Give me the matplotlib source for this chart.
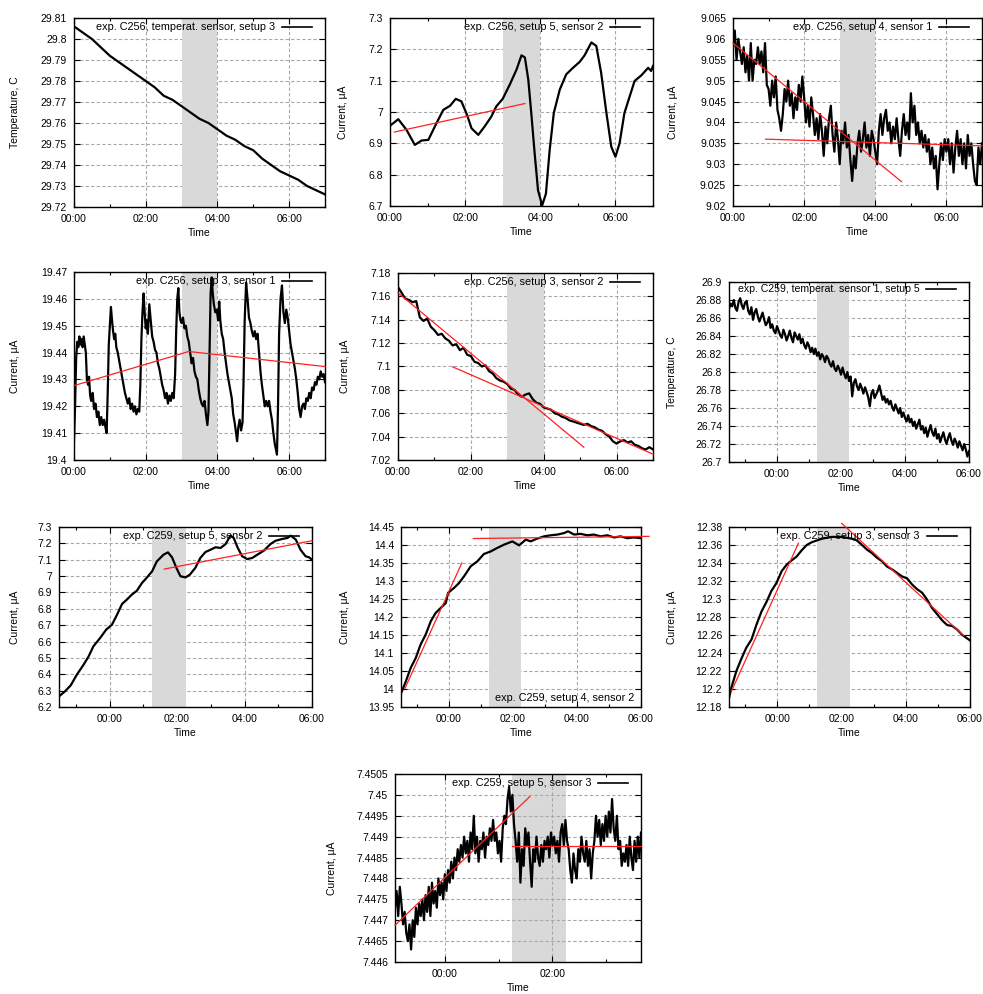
import numpy as np
import matplotlib
matplotlib.use("Agg")
import matplotlib.pyplot as plt
from matplotlib.ticker import MultipleLocator, FuncFormatter

plt.rcParams['font.family'] = ['Liberation Sans', 'DejaVu Sans']
plt.rcParams['font.size'] = 7.5

W, H = 983, 994

# ---- data (time in hours, values in C or uA) ----
p1_vals = [29.806, 29.803, 29.800, 29.796, 29.792, 29.789, 29.786, 29.783, 29.780,
           29.777, 29.773, 29.771, 29.768, 29.765, 29.762, 29.760, 29.757, 29.754,
           29.752, 29.749, 29.747, 29.743, 29.740, 29.737, 29.735, 29.733, 29.730,
           29.728, 29.726]

p2_t = [0.0, 0.22, 0.44, 0.66, 0.84, 1.02, 1.24, 1.42, 1.6, 1.75, 1.9, 2.05, 2.17,
        2.35, 2.52, 2.7, 2.83, 3.0, 3.19, 3.37, 3.5, 3.59, 3.68, 3.76, 3.85, 3.94,
        4.05, 4.15, 4.25, 4.36, 4.52, 4.69, 4.87, 5.05, 5.18, 5.36, 5.49, 5.62,
        5.76, 5.89, 6.0, 6.11, 6.24, 6.38, 6.51, 6.69, 6.87, 6.95, 7.0]
p2_v = [6.956, 6.977, 6.943, 6.895, 6.909, 6.911, 6.965, 7.007, 7.02, 7.042, 7.034,
        6.991, 6.948, 6.927, 6.954, 6.986, 7.018, 7.042, 7.088, 7.136, 7.181, 7.174,
        7.104, 6.997, 6.868, 6.75, 6.702, 6.739, 6.879, 6.997, 7.072, 7.12, 7.141,
        7.16, 7.181, 7.222, 7.211, 7.125, 6.997, 6.889, 6.857, 6.9, 6.997, 7.05,
        7.099, 7.117, 7.141, 7.131, 7.147]

p3_vals = [9.058, 9.062, 9.055, 9.060, 9.057, 9.054, 9.058, 9.052, 9.056, 9.050,
           9.059, 9.050, 9.055, 9.054, 9.058, 9.054, 9.057, 9.052, 9.059, 9.049,
           9.048, 9.044, 9.050, 9.046, 9.051, 9.043, 9.041, 9.038, 9.042, 9.048,
           9.045, 9.050, 9.044, 9.047, 9.041, 9.046, 9.043, 9.049, 9.045, 9.051,
           9.046, 9.040, 9.044, 9.039, 9.046, 9.042, 9.037, 9.041, 9.036, 9.042,
           9.038, 9.032, 9.039, 9.035, 9.041, 9.044, 9.037, 9.033, 9.040, 9.036,
           9.030, 9.038, 9.035, 9.040, 9.034, 9.037, 9.031, 9.026, 9.032, 9.029,
           9.035, 9.038, 9.033, 9.036, 9.040, 9.034, 9.037, 9.032, 9.038, 9.036,
           9.033, 9.030, 9.038, 9.042, 9.037, 9.041, 9.043, 9.038, 9.040, 9.035,
           9.039, 9.036, 9.041, 9.036, 9.032, 9.038, 9.042, 9.037, 9.040, 9.036,
           9.047, 9.040, 9.044, 9.037, 9.040, 9.035, 9.038, 9.034, 9.037, 9.033,
           9.036, 9.030, 9.034, 9.029, 9.032, 9.024, 9.030, 9.035, 9.031, 9.036,
           9.033, 9.036, 9.030, 9.035, 9.028, 9.034, 9.038, 9.032, 9.036, 9.030,
           9.035, 9.029, 9.037, 9.032, 9.035, 9.030, 9.026, 9.025, 9.034, 9.030,
           9.035]

p4_t = [0.00, 0.03, 0.06, 0.09, 0.12, 0.15, 0.18, 0.21, 0.24, 0.27, 0.30, 0.33,
        0.36, 0.39, 0.42, 0.45, 0.48, 0.52, 0.56, 0.60, 0.64, 0.68, 0.72, 0.76,
        0.80, 0.84, 0.88, 0.91, 0.94, 0.97, 1.00, 1.03, 1.06, 1.09, 1.12, 1.15,
        1.18, 1.22, 1.26, 1.30, 1.34, 1.38, 1.42, 1.46, 1.50, 1.54, 1.58, 1.62,
        1.66, 1.70, 1.74, 1.78, 1.82, 1.85, 1.88, 1.91, 1.94, 1.97, 2.00, 2.03,
        2.06, 2.10, 2.14, 2.18, 2.22, 2.26, 2.30, 2.34, 2.38, 2.42, 2.46, 2.50,
        2.54, 2.58, 2.62, 2.66, 2.70, 2.74, 2.78, 2.82, 2.85, 2.88, 2.91, 2.94,
        2.97, 3.00, 3.04, 3.08, 3.12, 3.16, 3.20, 3.24, 3.28, 3.32, 3.36, 3.40,
        3.44, 3.48, 3.52, 3.56, 3.60, 3.64, 3.68, 3.72, 3.75, 3.78, 3.81, 3.84,
        3.87, 3.90, 3.94, 3.98, 4.02, 4.05, 4.08, 4.12, 4.16, 4.20, 4.24, 4.28,
        4.32, 4.36, 4.40, 4.44, 4.48, 4.52, 4.55, 4.58, 4.62, 4.66, 4.70, 4.73,
        4.76, 4.80, 4.84, 4.88, 4.92, 4.96, 5.00, 5.04, 5.08, 5.12, 5.16, 5.20,
        5.24, 5.28, 5.32, 5.36, 5.40, 5.44, 5.48, 5.52, 5.56, 5.60, 5.63, 5.66,
        5.69, 5.72, 5.76, 5.80, 5.84, 5.88, 5.92, 5.96, 6.00, 6.04, 6.08, 6.12,
        6.16, 6.20, 6.24, 6.28, 6.32, 6.36, 6.40, 6.44, 6.48, 6.52, 6.56, 6.60,
        6.64, 6.68, 6.72, 6.76, 6.80, 6.84, 6.88, 6.92, 6.96, 7.00]
p4_v = [19.407, 19.420, 19.438, 19.444, 19.442, 19.446, 19.443, 19.445, 19.442,
        19.446, 19.443, 19.440, 19.430, 19.428, 19.431, 19.424, 19.422, 19.425,
        19.419, 19.421, 19.416, 19.418, 19.413, 19.416, 19.413, 19.415, 19.412,
        19.410, 19.425, 19.443, 19.450, 19.457, 19.452, 19.448, 19.445, 19.447,
        19.442, 19.440, 19.437, 19.434, 19.431, 19.428, 19.425, 19.423, 19.421,
        19.423, 19.419, 19.421, 19.418, 19.420, 19.417, 19.419, 19.418, 19.428,
        19.445, 19.455, 19.462, 19.455, 19.449, 19.452, 19.447, 19.458, 19.452,
        19.446, 19.444, 19.441, 19.440, 19.436, 19.434, 19.431, 19.428, 19.426,
        19.423, 19.425, 19.421, 19.424, 19.422, 19.425, 19.423, 19.432, 19.448,
        19.460, 19.464, 19.455, 19.452, 19.451, 19.453, 19.449, 19.450, 19.446,
        19.444, 19.440, 19.436, 19.438, 19.433, 19.431, 19.430, 19.426, 19.423,
        19.421, 19.420, 19.422, 19.417, 19.413, 19.418, 19.440, 19.462, 19.468,
        19.462, 19.458, 19.455, 19.456, 19.452, 19.459, 19.452, 19.447, 19.445,
        19.440, 19.436, 19.432, 19.429, 19.426, 19.423, 19.417, 19.414, 19.410,
        19.407, 19.412, 19.415, 19.411, 19.414, 19.430, 19.452, 19.466, 19.460,
        19.453, 19.451, 19.448, 19.446, 19.448, 19.445, 19.447, 19.440, 19.433,
        19.428, 19.424, 19.420, 19.422, 19.420, 19.422, 19.418, 19.415, 19.410,
        19.406, 19.404, 19.402, 19.420, 19.447, 19.460, 19.465, 19.455, 19.451,
        19.456, 19.453, 19.448, 19.443, 19.440, 19.437, 19.434, 19.430, 19.425,
        19.419, 19.416, 19.420, 19.421, 19.419, 19.423, 19.422, 19.425, 19.423,
        19.427, 19.426, 19.429, 19.428, 19.431, 19.430, 19.433, 19.431, 19.432,
        19.429]

p5_vals = [7.168, 7.163, 7.158, 7.157, 7.155, 7.156, 7.142, 7.139, 7.141, 7.134,
           7.131, 7.127, 7.128, 7.124, 7.122, 7.118, 7.119, 7.114, 7.116, 7.110,
           7.109, 7.104, 7.103, 7.100, 7.101, 7.096, 7.094, 7.090, 7.088, 7.087,
           7.085, 7.081, 7.080, 7.076, 7.074, 7.076, 7.077, 7.072, 7.069, 7.068,
           7.065, 7.064, 7.063, 7.060, 7.059, 7.057, 7.056, 7.054, 7.053, 7.052,
           7.051, 7.050, 7.051, 7.049, 7.048, 7.046, 7.045, 7.042, 7.040, 7.036,
           7.034, 7.036, 7.037, 7.035, 7.036, 7.033, 7.032, 7.030, 7.029, 7.031,
           7.029]

p6_vals = [26.870, 26.876, 26.873, 26.880, 26.871, 26.868, 26.878, 26.882, 26.874, 26.870,
           26.877, 26.879, 26.868, 26.864, 26.872, 26.858, 26.866, 26.870, 26.862, 26.856,
           26.861, 26.866, 26.858, 26.852, 26.855, 26.861, 26.849, 26.853, 26.846, 26.843,
           26.851, 26.846, 26.841, 26.838, 26.847, 26.842, 26.835, 26.840, 26.846, 26.838,
           26.833, 26.844, 26.840, 26.836, 26.842, 26.832, 26.837, 26.830, 26.826, 26.833,
           26.829, 26.822, 26.827, 26.820, 26.826, 26.818, 26.822, 26.814, 26.820, 26.817,
           26.811, 26.818, 26.815, 26.809, 26.806, 26.812, 26.804, 26.801, 26.807, 26.803,
           26.797, 26.805, 26.798, 26.793, 26.800, 26.790, 26.795, 26.773, 26.788, 26.792,
           26.784, 26.780, 26.787, 26.782, 26.776, 26.783, 26.778, 26.772, 26.762, 26.776,
           26.780, 26.771, 26.775, 26.779, 26.785, 26.777, 26.769, 26.773, 26.766, 26.770,
           26.764, 26.768, 26.761, 26.757, 26.764, 26.759, 26.754, 26.760, 26.750, 26.755,
           26.749, 26.745, 26.752, 26.744, 26.748, 26.740, 26.745, 26.737, 26.742, 26.747,
           26.736, 26.740, 26.732, 26.738, 26.728, 26.735, 26.741, 26.733, 26.729, 26.737,
           26.726, 26.731, 26.722, 26.728, 26.733, 26.725, 26.720, 26.727, 26.732, 26.724,
           26.719, 26.726, 26.722, 26.716, 26.723, 26.718, 26.713, 26.720, 26.714, 26.706,
           26.712]

p7_t = [-1.5, -1.32, -1.15, -0.97, -0.77, -0.62, -0.48, -0.28, -0.1, 0.07, 0.22,
        0.37, 0.51, 0.66, 0.81, 0.96, 1.11, 1.26, 1.4, 1.6, 1.73, 1.85, 1.98, 2.1,
        2.25, 2.38, 2.54, 2.69, 2.84, 2.99, 3.14, 3.29, 3.44, 3.58, 3.68, 3.8,
        3.93, 4.08, 4.23, 4.38, 4.57, 4.77, 4.92, 5.12, 5.27, 5.37, 5.52, 5.66,
        5.81, 5.91, 6.0]
p7_v = [6.265, 6.296, 6.333, 6.398, 6.459, 6.51, 6.571, 6.622, 6.673, 6.703, 6.764,
        6.83, 6.856, 6.887, 6.911, 6.958, 6.992, 7.029, 7.09, 7.131, 7.145, 7.115,
        7.05, 6.999, 6.992, 7.009, 7.05, 7.111, 7.147, 7.161, 7.176, 7.172, 7.196,
        7.247, 7.233, 7.172, 7.121, 7.104, 7.111, 7.131, 7.155, 7.196, 7.216,
        7.227, 7.233, 7.247, 7.223, 7.161, 7.121, 7.115, 7.1]

p8_t = [-1.48, -1.35, -1.2, -1.04, -0.89, -0.73, -0.57, -0.42, -0.26, -0.1, -0.03,
        0.16, 0.31, 0.47, 0.68, 0.89, 1.09, 1.3, 1.51, 1.72, 1.98, 2.19, 2.4, 2.55,
        2.76, 2.97, 3.18, 3.39, 3.59, 3.72, 3.91, 4.11, 4.32, 4.53, 4.74, 4.95,
        5.16, 5.36, 5.57, 5.78, 6.0]
p8_v = [13.992, 14.021, 14.058, 14.086, 14.123, 14.151, 14.188, 14.211, 14.225,
        14.239, 14.267, 14.281, 14.294, 14.313, 14.341, 14.355, 14.375, 14.382,
        14.392, 14.401, 14.41, 14.399, 14.415, 14.41, 14.418, 14.424, 14.427,
        14.429, 14.433, 14.438, 14.429, 14.431, 14.427, 14.429, 14.424, 14.427,
        14.421, 14.424, 14.419, 14.421, 14.419]

p9_t = [-1.5, -1.43, -1.27, -1.11, -0.96, -0.8, -0.65, -0.49, -0.33, -0.18, -0.02,
        0.14, 0.29, 0.45, 0.6, 0.76, 0.92, 1.07, 1.23, 1.39, 1.54, 1.7, 1.85, 2.01,
        2.17, 2.32, 2.48, 2.64, 2.79, 2.95, 3.1, 3.26, 3.42, 3.57, 3.73, 3.89,
        4.04, 4.2, 4.35, 4.51, 4.67, 4.82, 4.98, 5.14, 5.29, 5.45, 5.6, 5.76,
        5.92, 6.0]
p9_v = [12.19, 12.201, 12.22, 12.234, 12.246, 12.255, 12.271, 12.286, 12.297,
        12.309, 12.318, 12.331, 12.338, 12.343, 12.347, 12.354, 12.36, 12.363,
        12.365, 12.367, 12.368, 12.369, 12.369, 12.369, 12.368, 12.367, 12.365,
        12.36, 12.355, 12.351, 12.346, 12.342, 12.336, 12.333, 12.329, 12.325,
        12.323, 12.316, 12.311, 12.307, 12.299, 12.29, 12.283, 12.276, 12.271,
        12.27, 12.266, 12.26, 12.256, 12.254]

p10_vals = [7.4473, 7.4477, 7.4471, 7.4478, 7.4474, 7.4469, 7.4472, 7.4467, 7.4465,
            7.4469, 7.4463, 7.4470, 7.4466, 7.4473, 7.4469, 7.4474, 7.4471, 7.4475,
            7.4470, 7.4476, 7.4472, 7.4478, 7.4471, 7.4479, 7.4474, 7.4477, 7.4473,
            7.4480, 7.4476, 7.4479, 7.4475, 7.4481, 7.4477, 7.4482, 7.4479, 7.4484,
            7.4480, 7.4485, 7.4482, 7.4487, 7.4484, 7.4488, 7.4485, 7.4490, 7.4486,
            7.4489, 7.4484, 7.4491, 7.4487, 7.4495, 7.4486, 7.4490, 7.4484, 7.4489,
            7.4487, 7.4491, 7.4485, 7.4490, 7.4488, 7.4492, 7.4489, 7.4494, 7.4489,
            7.4491, 7.4486, 7.4489, 7.4484, 7.4492, 7.4495, 7.4493, 7.4499, 7.4502,
            7.4496, 7.4500, 7.4493, 7.4489, 7.4484, 7.4491, 7.4479, 7.4487, 7.4483,
            7.4492, 7.4488, 7.4491, 7.4484, 7.4478, 7.4487, 7.4484, 7.4490, 7.4485,
            7.4483, 7.4488, 7.4484, 7.4489, 7.4487, 7.4490, 7.4485, 7.4491, 7.4488,
            7.4490, 7.4486, 7.4489, 7.4484, 7.4491, 7.4493, 7.4488, 7.4494, 7.4489,
            7.4487, 7.4482, 7.4479, 7.4486, 7.4482, 7.4480, 7.4487, 7.4484, 7.4490,
            7.4486, 7.4484, 7.4489, 7.4483, 7.4487, 7.4480, 7.4486, 7.4489, 7.4495,
            7.4490, 7.4494, 7.4488, 7.4493, 7.4489, 7.4495, 7.4490, 7.4496, 7.4491,
            7.4499, 7.4492, 7.4489, 7.4495, 7.4487, 7.4489, 7.4483, 7.4486, 7.4484,
            7.4488, 7.4483, 7.4490, 7.4485, 7.4482, 7.4489, 7.4484, 7.4490, 7.4485,
            7.4491]

# fitted lines: list of ((t0, t1), (v0, v1))
fits = {
    2: [((0.115, 3.59), (6.936, 7.027))],
    3: [((0.0, 4.74), (9.059, 9.0258)), ((0.92, 7.0), (9.036, 9.0344))],
    4: [((0.0, 3.2), (19.4277, 19.4404)), ((3.2, 7.0), (19.4404, 19.4348))],
    5: [((0.0, 5.1), (7.163, 7.031)), ((1.5, 7.0), (7.0997, 7.025))],
    7: [((1.62, 6.0), (7.043, 7.216))],
    8: [((-1.38, 0.4), (14.001, 14.35)), ((0.76, 6.25), (14.418, 14.424))],
    9: [((-1.43, 0.66), (12.197, 12.362)), ((2.01, 5.81), (12.384, 12.259))],
    10: [((-0.93, 1.58), (7.44688, 7.44996)), ((1.24, 3.65), (7.44878, 7.44878))],
}

labels = {
    1: "exp. C256, temperat. sensor, setup 3",
    2: "exp. C256, setup 5, sensor 2",
    3: "exp. C256, setup 4, sensor 1",
    4: "exp. C256, setup 3, sensor 1",
    5: "exp. C256, setup 3, sensor 2",
    6: "exp. C259, temperat. sensor 1, setup 5",
    7: "exp. C259, setup 5, sensor 2",
    8: "exp. C259, setup 4, sensor 2",
    9: "exp. C259, setup 3, sensor 3",
    10: "exp. C259, setup 5, sensor 3",
}

series = {
    1: (np.linspace(0, 7, len(p1_vals)), p1_vals),
    2: (p2_t, p2_v),
    3: (np.linspace(0, 7, len(p3_vals)), p3_vals),
    4: (p4_t, p4_v),
    5: (np.linspace(0, 7, len(p5_vals)), p5_vals),
    6: (np.linspace(-1.5, 6, len(p6_vals)), p6_vals),
    7: (p7_t, p7_v),
    8: (p8_t, p8_v),
    9: (p9_t, p9_v),
    10: (np.linspace(-0.93, 3.65, len(p10_vals)), p10_vals),
}

# panel geometry in pixels (x0, x1, y0, y1), ylabel centre x, x range, y range, y step, band
panels = {
    1: ((74, 325, 18, 207), 15, (0, 7), (29.72, 29.81), 0.01, (3, 4)),
    2: ((390, 653, 18, 206), 343, (0, 7), (6.7, 7.3), 0.1, (3, 4)),
    3: ((733, 982, 18, 206), 673, (0, 7), (9.02, 9.065), 0.005, (3, 4)),
    4: ((74, 325, 272, 460), 15, (0, 7), (19.4, 19.47), 0.01, (3, 4)),
    5: ((398, 653, 273, 460), 345, (0, 7), (7.02, 7.18), 0.02, (3, 4)),
    6: ((729, 969, 282, 462), 672, (-1.5, 6), (26.7, 26.9), 0.02, (1.25, 2.25)),
    7: ((59, 312, 527, 707), 15, (-1.5, 6), (6.2, 7.3), 0.1, (1.25, 2.25)),
    8: ((401, 641, 527, 707), 345, (-1.5, 6), (13.95, 14.45), 0.05, (1.25, 2.25)),
    9: ((729, 970, 527, 707), 672, (-1.5, 6), (12.18, 12.38), 0.02, (1.25, 2.25)),
    10: ((395, 641, 774, 962), 332, (-0.93, 3.65), (7.446, 7.4505), 0.0005, (1.25, 2.25)),
}


def hhmm(v, pos):
    h = int(round(v * 60)) // 60
    m = int(round(v * 60)) % 60
    return f"{h:02d}:{m:02d}"


fig = plt.figure(figsize=(W / 100, H / 100), dpi=100)

for n, (rect, ylab_x, xr, yr, ystep, band) in panels.items():
    x0, x1, y0, y1 = rect
    wpx, hpx = x1 - x0, y1 - y0
    ax = fig.add_axes([x0 / W, 1 - y1 / H, wpx / W, hpx / H])
    ax.set_xlim(*xr)
    ax.set_ylim(*yr)

    ax.set_axisbelow(True)
    ax.grid(True, which='major', color='#a8a8a8', linestyle=(0, (3, 2)), linewidth=0.8)
    ax.axvspan(band[0], band[1], color='#d9d9d9', lw=0, zorder=0.2 if n == 10 else 1)

    t, v = series[n]
    ax.plot(t, v, color='black', lw=1.6, zorder=3)
    for (ta, tb), (va, vb) in fits.get(n, []):
        ax.plot([ta, tb], [va, vb], color='#ff2020', lw=0.9, zorder=4, clip_on=False)

    ax.xaxis.set_major_locator(MultipleLocator(2))
    ax.xaxis.set_minor_locator(MultipleLocator(1))
    ax.xaxis.set_major_formatter(FuncFormatter(hhmm))
    ax.yaxis.set_major_locator(MultipleLocator(ystep))
    ax.yaxis.set_major_formatter(FuncFormatter(lambda v, p: f"{round(v, 6):g}"))
    ax.tick_params(which='both', direction='in', top=True, right=True, width=0.8)
    ax.tick_params(which='major', length=4)
    ax.tick_params(which='minor', length=2)
    ax.tick_params(axis='x', pad=5, labelsize=7.5)
    ax.tick_params(axis='y', pad=5, labelsize=7.5)
    for s in ax.spines.values():
        s.set_linewidth(1.0)

    ax.set_xlabel("Time", fontsize=7.5, labelpad=3)
    ylab = "Temperature, C" if n in (1, 6) else "Current, μA"
    ax.set_ylabel(ylab, fontsize=7.5)
    ax.yaxis.set_label_coords((ylab_x + 5 - x0) / wpx, 0.5)

    # key: label text with a line sample on its right
    if n == 8:
        ax.text(1 - 7 / wpx, 9 / hpx, labels[n], transform=ax.transAxes,
                ha='right', va='center', fontsize=7.8, zorder=6)
    else:
        ky = 1 - (7 if n == 6 else 9) / hpx
        ax.text(1 - (49 if n == 6 else 50) / wpx, ky, labels[n], transform=ax.transAxes,
                ha='right', va='center', fontsize=7.6 if n == 6 else 7.8, zorder=6)
        ax.plot([1 - 43 / wpx, 1 - 13 / wpx], [ky, ky], transform=ax.transAxes,
                color='black', lw=1.2, zorder=6)

fig.savefig("out.png", dpi=100)
